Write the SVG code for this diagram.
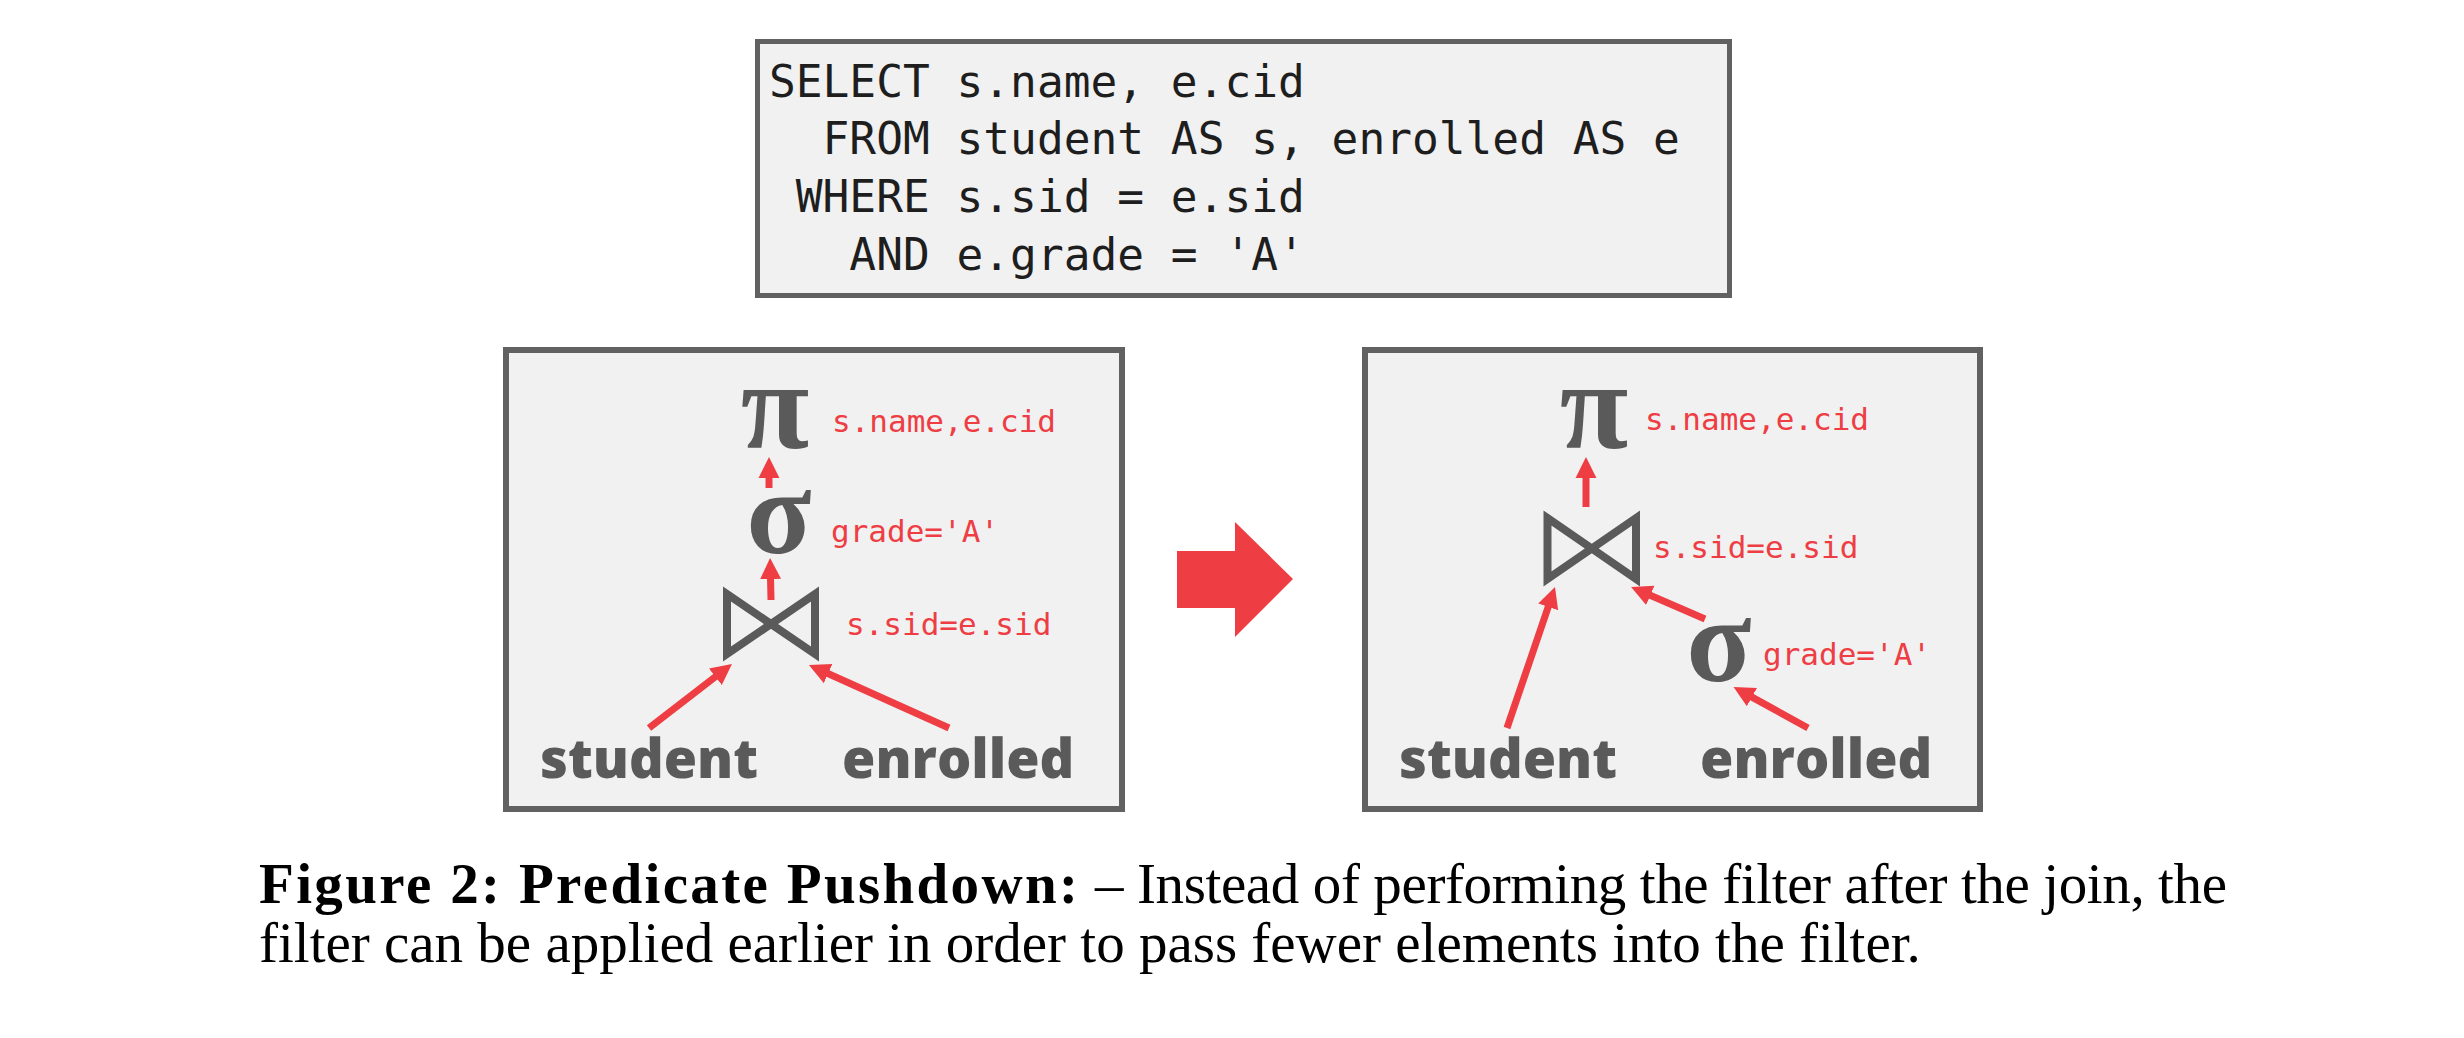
<svg xmlns="http://www.w3.org/2000/svg" width="2464" height="1038" viewBox="0 0 2464 1038">
<style>
.box{fill:#f1f1f1;stroke:#616161;stroke-width:6}
.sql{font-family:"DejaVu Sans Mono","Liberation Mono",monospace;font-size:44.5px;fill:#1e1e1e;white-space:pre}
.op{font-family:"Liberation Serif","DejaVu Serif",serif;font-weight:bold;fill:#5a5a5a;text-anchor:middle}
.lbl{font-family:"DejaVu Sans Mono","Liberation Mono",monospace;font-size:31px;fill:#ee3e44}
.rel{font-family:"Open Sans","Noto Sans",sans-serif;font-weight:800;font-size:54px;fill:#5a5a5a}
.join{fill:none;stroke:#5a5a5a;stroke-width:8;stroke-linejoin:miter}
.arr{stroke:#ee3e44;stroke-width:7;fill:none;marker-end:url(#ah)}
.cap{font-family:"Liberation Serif","Times New Roman",serif;font-size:57px;fill:#000}
</style>
<defs>
<marker id="ah" viewBox="0 0 10 10" refX="1" refY="5" markerWidth="3" markerHeight="3.2" orient="auto" markerUnits="strokeWidth">
<path d="M0,0 L10,5 L0,10 z" fill="#ee3e44"/>
</marker>
</defs>
<rect width="2464" height="1038" fill="#ffffff"/>

<g id="sql-query">
<rect class="box" x="757.5" y="41.5" width="972" height="254" style="stroke-width:5"/>
<text class="sql" x="769" y="97" xml:space="preserve">SELECT s.name, e.cid</text>
<text class="sql" x="769" y="154" xml:space="preserve">  FROM student AS s, enrolled AS e</text>
<text class="sql" x="769" y="212" xml:space="preserve"> WHERE s.sid = e.sid</text>
<text class="sql" x="769" y="270" xml:space="preserve">   AND e.grade = 'A'</text>
</g>

<g id="plan-before">
<rect class="box" x="506" y="350" width="616" height="459"/>
<g id="before-projection">
<text class="op" x="775" y="448" font-size="125">π</text>
<text class="lbl" x="832" y="432">s.name,e.cid</text>
</g>
<g id="before-selection">
<text class="op" x="779" y="553" font-size="120">σ</text>
<text class="lbl" x="831" y="542">grade='A'</text>
</g>
<g id="before-join">
<path class="join" d="M727,594 L815,654 L815,594 L727,654 Z"/>
<text class="lbl" x="846" y="635">s.sid=e.sid</text>
</g>
<g id="before-student"><text class="rel" x="540" y="778">student</text></g>
<g id="before-enrolled"><text class="rel" x="842" y="778">enrolled</text></g>
</g>

<g id="plan-after">
<rect class="box" x="1365" y="350" width="615" height="459"/>
<g id="after-projection">
<text class="op" x="1594" y="448" font-size="125">π</text>
<text class="lbl" x="1645" y="430">s.name,e.cid</text>
</g>
<g id="after-join">
<path class="join" d="M1547.5,518 L1636,579 L1636,518 L1547.5,579 Z"/>
<text class="lbl" x="1653" y="558">s.sid=e.sid</text>
</g>
<g id="after-selection">
<text class="op" x="1719" y="681" font-size="120">σ</text>
<text class="lbl" x="1763" y="665">grade='A'</text>
</g>
<g id="after-student"><text class="rel" x="1399" y="778">student</text></g>
<g id="after-enrolled"><text class="rel" x="1700" y="778">enrolled</text></g>
</g>

<g id="transform-arrow">
<polygon points="1177,551 1235,551 1235,522 1293,579 1235,637 1235,608 1177,608" fill="#ee3e44"/>
</g>

<g id="connectors">
<line class="arr" x1="769" y1="488" x2="769" y2="476"/>
<line class="arr" x1="771" y1="600" x2="770.5" y2="577"/>
<line class="arr" x1="649" y1="728" x2="717" y2="675.5"/>
<line class="arr" x1="949" y1="728" x2="826.2" y2="672.8"/>
<line class="arr" x1="1586" y1="507" x2="1586" y2="476"/>
<line class="arr" x1="1507" y1="728" x2="1548.9" y2="604.9"/>
<line class="arr" x1="1705" y1="619" x2="1648.4" y2="594.5"/>
<line class="arr" x1="1808" y1="728" x2="1750.1" y2="696.1"/>
</g>

<g id="caption">
<text class="cap" x="259" y="903" font-weight="bold" font-size="60" textLength="819" lengthAdjust="spacing">Figure 2: Predicate Pushdown:</text>
<text class="cap" x="1095" y="903" textLength="1132" lengthAdjust="spacing">– Instead of performing the filter after the join, the</text>
<text class="cap" x="259" y="962">filter can be applied earlier in order to pass fewer elements into the filter.</text>
</g>
</svg>
